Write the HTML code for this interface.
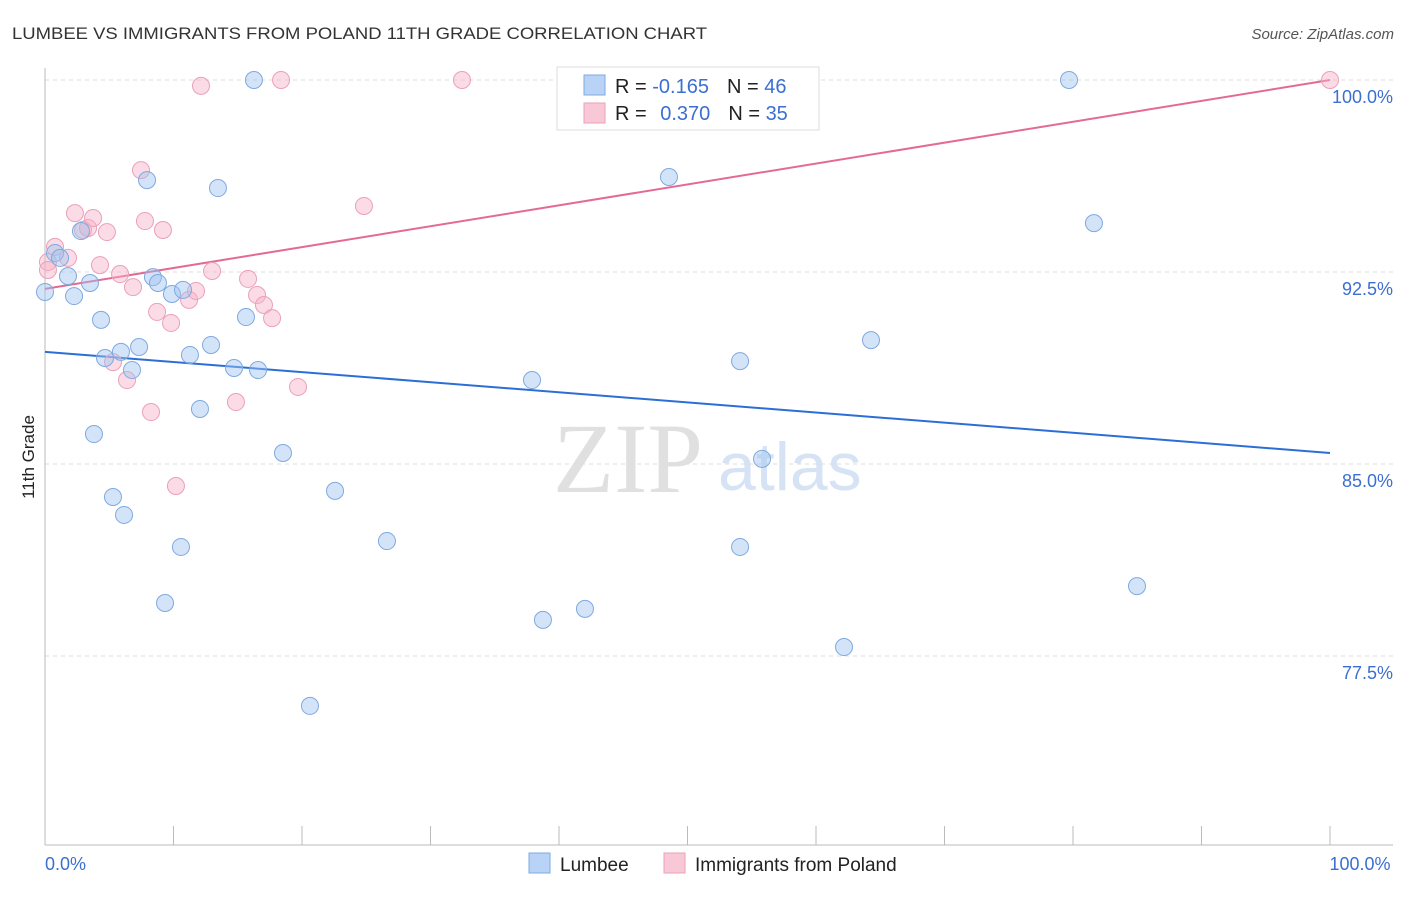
<!DOCTYPE html>
<html><head><meta charset="utf-8"><style>
body{margin:0;background:#fff;font-family:"Liberation Sans",sans-serif}
svg text{font-family:"Liberation Sans",sans-serif}
</style></head><body>
<svg id="chart" width="1406" height="892">
<text x="12" y="39" font-size="17" fill="#333" textLength="695" lengthAdjust="spacingAndGlyphs">LUMBEE VS IMMIGRANTS FROM POLAND 11TH GRADE CORRELATION CHART</text>
<text x="1394" y="39" font-size="15" fill="#555" text-anchor="end" font-style="italic">Source: ZipAtlas.com</text>
<text x="553" y="492" font-size="100" fill="#e0e0e0" style="font-family:'Liberation Serif',serif">ZIP</text>
<text x="718" y="490" font-size="68" fill="#d6e3f5">atlas</text>
<text transform="translate(34,457) rotate(-90)" font-size="17" fill="#222" text-anchor="middle">11th Grade</text>
<g id="grid"></g><g id="axes"></g><g id="lines"></g><g id="pts"></g>
<g>
<rect x="557" y="67" width="262" height="63" fill="#fff" stroke="#ddd"/>
<rect x="584" y="75" width="21" height="20" fill="#b8d3f5" stroke="#7fa9e0"/>
<rect x="584" y="103" width="21" height="20" fill="#f9c8d7" stroke="#eba0b8"/>
<text x="615" y="93" font-size="20" fill="#222">R = <tspan fill="#3b6fd1">-0.165</tspan><tspan dx="18">N = </tspan><tspan fill="#3b6fd1">46</tspan></text>
<text x="615" y="120" font-size="20" fill="#222">R = <tspan fill="#3b6fd1" dx="8">0.370</tspan><tspan dx="18">N = </tspan><tspan fill="#3b6fd1">35</tspan></text>
</g>
<g>
<rect x="529" y="853" width="21" height="20" fill="#b8d3f5" stroke="#7fa9e0"/>
<text x="560" y="871" font-size="19" fill="#222">Lumbee</text>
<rect x="664" y="853" width="21" height="20" fill="#f9c8d7" stroke="#eba0b8"/>
<text x="695" y="871" font-size="19" fill="#222">Immigrants from Poland</text>
</g>
</svg>
<script>
const yTicks=[100,92.5,85,77.5];
const yTickLabels=["100.0%","92.5%","85.0%","77.5%"];
const xTickLabels=["0.0%","100.0%"];
const blueX=[0,0.78,1.79,2.26,2.80,3.50,4.36,3.81,4.67,5.29,5.91,6.15,6.77,7.32,7.94,8.40,8.79,9.34,9.88,10.58,10.74,11.28,12.06,12.92,13.46,14.71,15.64,16.26,16.58,18.52,20.62,22.57,26.61,37.90,38.75,42.02,48.56,54.09,54.09,55.80,62.18,64.28,79.69,81.63,84.98,1.17];
const blueY=[91.72,93.24,92.34,91.56,94.10,92.07,90.63,86.17,89.14,83.71,89.38,83.01,88.67,89.57,96.09,92.30,92.07,79.57,91.64,81.76,91.80,89.26,87.15,89.65,95.78,88.75,90.74,100,88.67,85.43,75.55,83.95,81.99,88.28,78.91,79.34,96.21,89.02,81.76,85.20,77.85,89.84,100,94.41,80.23,93.05];
const pinkX=[0.23,0.78,1.79,2.33,2.96,3.35,3.74,4.28,4.82,5.29,5.84,6.38,6.85,7.47,7.78,8.25,8.72,9.18,9.81,10.19,11.21,11.75,12.14,13.00,14.86,15.80,16.50,17.04,17.67,18.37,19.69,24.82,32.45,100,0.23];
const pinkY=[92.89,93.48,93.05,94.80,94.14,94.22,94.61,92.77,94.06,88.98,92.42,88.28,91.91,96.48,94.49,87.03,90.94,94.14,90.51,84.14,91.41,91.76,99.77,92.54,87.42,92.23,91.60,91.21,90.70,100,88.01,95.08,100,100,92.58];
const blueTrend=[89.38,85.43];
const pinkTrend=[91.84,100];
const NS="http://www.w3.org/2000/svg";
const X=v=>45+v*12.85, Y=v=>80+(100-v)*25.6;
function mk(tag,attrs,parent){const e=document.createElementNS(NS,tag);for(const k in attrs)e.setAttribute(k,attrs[k]);document.getElementById(parent).appendChild(e);return e;}
yTicks.forEach((t,i)=>{
 const l=mk('line',{x1:45,x2:1393,y1:Y(t),y2:Y(t),stroke:'#ddd','stroke-dasharray':'4,4'},'grid');
 
 
 const tx=mk('text',{x:1393,y:Y(t)+23,'font-size':18,fill:'#3b6fd1','text-anchor':'end'},'grid');
 tx.textContent=yTickLabels[i];
 
 
});
let a=mk('line',{x1:45,x2:45,y1:68,y2:845,stroke:'#bbb'},'axes');


a=mk('line',{x1:45,x2:1393,y1:845,y2:845,stroke:'#bbb'},'axes');


for(let i=0;i<=10;i++){const t=mk('line',{x1:X(i*10),x2:X(i*10),y1:826,y2:845,stroke:'#bbb'},'axes');
 
 }
[[0,'start'],[100,'middle']].forEach((p,i)=>{const t=mk('text',{x:i?X(100)+30:45,y:870,'font-size':18,fill:'#3b6fd1','text-anchor':i?'middle':'start'},'axes');t.textContent=xTickLabels[i];
 
 });
function drawPts(xs,ys,fill,stroke,name){xs.forEach((x,i)=>{const c=mk('circle',{cx:X(x),cy:Y(ys[i]),r:8.5,fill:fill,stroke:stroke,'stroke-width':1},'pts');
 
 });}
drawPts(pinkX,pinkY,'rgba(246,178,200,0.45)','#eba0b8','poland-point');
drawPts(blueX,blueY,'rgba(160,196,240,0.45)','#7fa9e0','lumbee-point');
let tl=mk('line',{x1:X(0),x2:X(100),y1:Y(blueTrend[0]),y2:Y(blueTrend[1]),stroke:'#2b6fd6','stroke-width':2},'lines');


tl=mk('line',{x1:X(0),x2:X(100),y1:Y(pinkTrend[0]),y2:Y(pinkTrend[1]),stroke:'#e46a96','stroke-width':2},'lines');


</script>
</body></html>
